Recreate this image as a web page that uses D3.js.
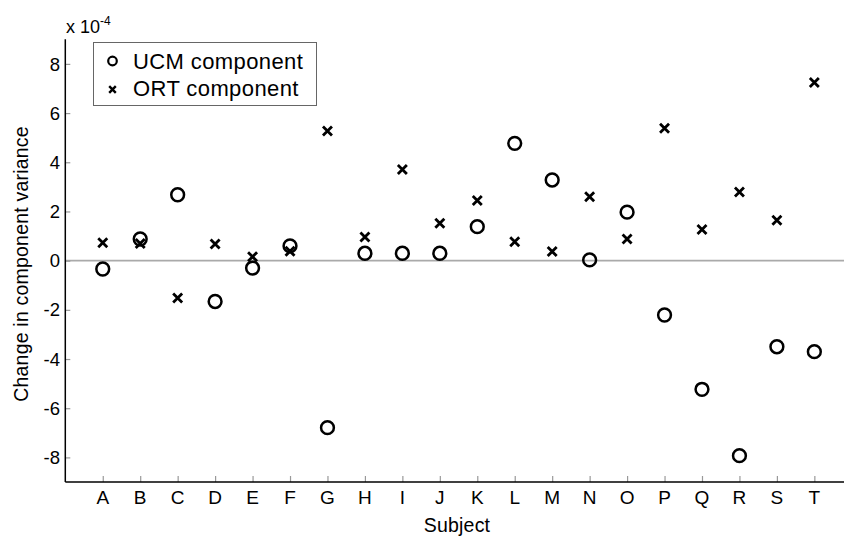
<!DOCTYPE html>
<html>
<head>
<meta charset="utf-8">
<script src="https://cdn.jsdelivr.net/npm/d3@7"></script>
<style>
  body { margin: 0; background: #fff; }
  svg { display: block; font-family: "Liberation Sans", Arial, Helvetica, sans-serif; }
</style>
</head>
<body>
<div id="plot-container"></div>
<script>
// Subjects and the two variance components (units of 1e-4)
const subjects = ["A","B","C","D","E","F","G","H","I","J","K","L","M","N","O","P","Q","R","S","T"];
const ucm = [-0.34, 0.88, 2.68, -1.66, -0.30, 0.60, -6.79, 0.30, 0.30, 0.30, 1.38, 4.77, 3.28, 0.03, 1.97, -2.21, -5.23, -7.93, -3.50, -3.70];
const ort = [0.73, 0.70, -1.52, 0.68, 0.16, 0.38, 5.27, 0.96, 3.71, 1.52, 2.45, 0.77, 0.37, 2.60, 0.88, 5.38, 1.27, 2.79, 1.64, 7.24];
const yTicks = [-8, -6, -4, -2, 0, 2, 4, 6, 8];

const W = 844, H = 541;
const svg = d3.select("#plot-container").append("svg")
    .attr("width", W).attr("height", H);

// scales: index 1..20 for subjects
const x = d3.scaleLinear().domain([0, 21]).range([65.3, 851.8]);
const y = d3.scaleLinear().domain([-9, 9]).range([482, 39.3]);

const axisColor = "#000";
const tickColor = "#999";

// zero line
svg.append("line")
    .attr("x1", x(0)).attr("x2", W)
    .attr("y1", y(0)).attr("y2", y(0))
    .attr("stroke", "#aaa").attr("stroke-width", 1.6);

// y axis
const yAxis = svg.append("g")
    .attr("transform", `translate(${x(0)},0)`)
    .call(d3.axisRight(y).tickValues(yTicks).tickSize(5).tickFormat(""));
yAxis.select(".domain").remove();
yAxis.selectAll("line").attr("stroke", tickColor).attr("stroke-width", 1.2);
yTicks.forEach(t => {
  svg.append("text")
      .attr("x", 60).attr("y", y(t))
      .attr("dy", "0.36em")
      .attr("text-anchor", "end")
      .attr("font-size", 18.5)
      .text(t);
});

// x axis
const xAxis = svg.append("g")
    .attr("transform", `translate(0,${y(-9)})`)
    .call(d3.axisTop(x).tickValues(d3.range(1, 21)).tickSize(6).tickFormat(""));
xAxis.select(".domain").remove();
xAxis.selectAll("line").attr("stroke", tickColor).attr("stroke-width", 1.2);
subjects.forEach((s, i) => {
  svg.append("text")
      .attr("x", x(i + 1)).attr("y", 504)
      .attr("text-anchor", "middle")
      .attr("font-size", 19)
      .text(s);
});

// axis lines
svg.append("line")
    .attr("x1", x(0)).attr("x2", x(0))
    .attr("y1", y(9)).attr("y2", y(-9))
    .attr("stroke", axisColor).attr("stroke-width", 1.5);
svg.append("line")
    .attr("x1", x(0)).attr("x2", W)
    .attr("y1", y(-9)).attr("y2", y(-9))
    .attr("stroke", axisColor).attr("stroke-width", 1.5);

// exponent label
const expo = svg.append("text").attr("x", 66).attr("y", 33).attr("font-size", 18);
expo.append("tspan").text("x 10");
expo.append("tspan").attr("font-size", 12).attr("dy", -8).text("-4");

// axis titles
svg.append("text")
    .attr("x", 457).attr("y", 532)
    .attr("text-anchor", "middle")
    .attr("font-size", 19.5)
    .attr("letter-spacing", 0.2)
    .text("Subject");
svg.append("text")
    .attr("transform", `translate(28,${264}) rotate(-90)`)
    .attr("text-anchor", "middle")
    .attr("font-size", 19.5)
    .attr("letter-spacing", 0.2)
    .text("Change in component variance");

// markers
const cross = (g, cx, cy, h, sw) => {
  g.append("path")
      .attr("d", `M${cx - h},${cy - h}L${cx + h},${cy + h}M${cx - h},${cy + h}L${cx + h},${cy - h}`)
      .attr("stroke", "#000").attr("stroke-width", sw).attr("fill", "none");
};

const pts = svg.append("g");
pts.selectAll("circle")
    .data(ucm)
    .join("circle")
    .attr("cx", (d, i) => x(i + 1))
    .attr("cy", d => y(d))
    .attr("r", 6.4)
    .attr("fill", "none")
    .attr("stroke", "#000")
    .attr("stroke-width", 2.5);
ort.forEach((d, i) => cross(pts, x(i + 1), y(d), 4.5, 2.8));

// legend
const lg = svg.append("g");
lg.append("rect")
    .attr("x", 93.5).attr("y", 42.5).attr("width", 223).attr("height", 63)
    .attr("fill", "#fff").attr("stroke", "#666").attr("stroke-width", 1);
lg.append("circle").attr("cx", 112.5).attr("cy", 61).attr("r", 4.3)
    .attr("fill", "none").attr("stroke", "#000").attr("stroke-width", 2.2);
cross(lg, 112.5, 89.5, 3.3, 2.4);
lg.append("text").attr("x", 133).attr("y", 68.5).attr("font-size", 22)
    .attr("letter-spacing", 0.4).text("UCM component");
lg.append("text").attr("x", 133).attr("y", 96).attr("font-size", 22)
    .attr("letter-spacing", 0.4).text("ORT component");
</script>
</body>
</html>
